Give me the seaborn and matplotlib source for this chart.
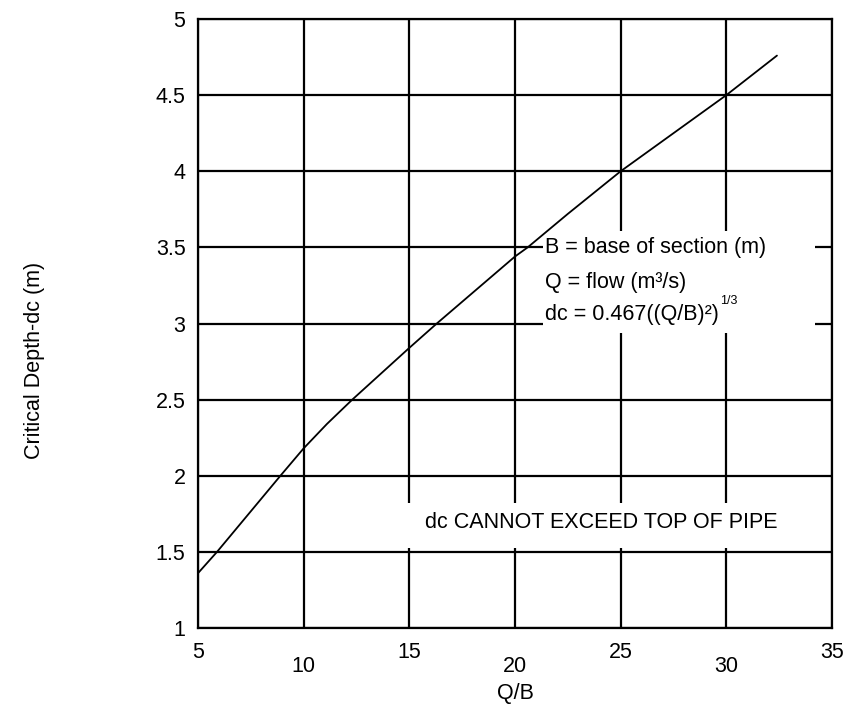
import seaborn as sns
import matplotlib.pyplot as plt
from matplotlib.patches import Rectangle

# -----------------------------------
# Data
# -----------------------------------

q_over_b = [5, 5.9, 8.9, 10, 11.1, 12.3, 15, 16.3, 20, 20.6, 22.5, 25, 30, 32.4]
depth = [1.36, 1.5, 2.0, 2.18, 2.34, 2.5, 2.84, 3.0, 3.44, 3.5, 3.72, 4.0, 4.5, 4.76]

x_upper_ticks = [5, 15, 25, 35]
x_lower_ticks = [10, 20, 30]
y_ticks = [1, 1.5, 2, 2.5, 3, 3.5, 4, 4.5, 5]
y_tick_labels = ["1", "1.5", "2", "2.5", "3", "3.5", "4", "4.5", "5"]

legend_lines = ["B = base of section (m)", "Q = flow (m³/s)", "dc = 0.467((Q/B)²)"]
note = "dc CANNOT EXCEED TOP OF PIPE"

# -----------------------------------
# Style
# -----------------------------------

sns.set_style("white")
plt.rcParams["font.family"] = ["Liberation Sans", "DejaVu Sans"]
plt.rcParams["text.color"] = "black"

fig = plt.figure(figsize=(8.48, 7.06), dpi=100)
ax = fig.add_axes([0.2335, 0.1105, 0.7475, 0.8625])

# -----------------------------------
# Curve
# -----------------------------------

sns.lineplot(x=q_over_b, y=depth, color="black", linewidth=1.3,
             sort=False, ax=ax, zorder=3)

ax.set_xlim(5, 35)
ax.set_ylim(1, 5)

# grid
ax.set_xticks(x_upper_ticks)
ax.set_xticks(x_lower_ticks, minor=True)
ax.set_xticklabels([str(t) for t in x_lower_ticks], minor=True)
ax.set_yticks(y_ticks)
ax.set_yticklabels(y_tick_labels)

ax.grid(True, which="both", axis="x", color="black", linewidth=1.6)
ax.grid(True, which="major", axis="y", color="black", linewidth=1.6)

ax.tick_params(axis="x", which="major", length=4, width=1.6,
               pad=6, labelsize=15.5, colors="black")
ax.tick_params(axis="x", which="minor", length=18, width=1.6,
               pad=2, labelsize=15.5, colors="black")
ax.tick_params(axis="y", length=0, pad=9, labelsize=15.5, colors="black")

for sp in ax.spines.values():
    sp.set_color("black")
    sp.set_linewidth(1.6)

# white panels behind the notes
ax.add_patch(Rectangle((21.33, 2.94), 12.87, 0.67, facecolor="white",
                       edgecolor="none", zorder=1.5))
ax.add_patch(Rectangle((14.56, 1.525), 18.94, 0.295, facecolor="white",
                       edgecolor="none", zorder=1.5))

# -----------------------------------
# Notes
# -----------------------------------

ys = [3.50, 3.27, 3.06]
for txt, yy in zip(legend_lines, ys):
    t = ax.text(21.42, yy, txt, fontsize=15.5, va="center", ha="left",
                color="black", zorder=4)

ax.annotate("1/3", xy=(1.0, 1.0), xycoords=t, xytext=(1, -2),
            textcoords="offset points", fontsize=9, va="bottom",
            ha="left", color="black", zorder=4)

ax.text(15.74, 1.69, note, fontsize=15.5, va="center", ha="left",
        color="black", zorder=4)

ax.set_xlabel("Q/B", fontsize=15.5, color="black")
ax.xaxis.set_label_coords(0.5, -0.091)
ax.set_ylabel("Critical Depth-dc (m)", fontsize=15.5, color="black")
ax.yaxis.set_label_coords(-0.241, 0.44)

fig.savefig("out.png", dpi=100)
